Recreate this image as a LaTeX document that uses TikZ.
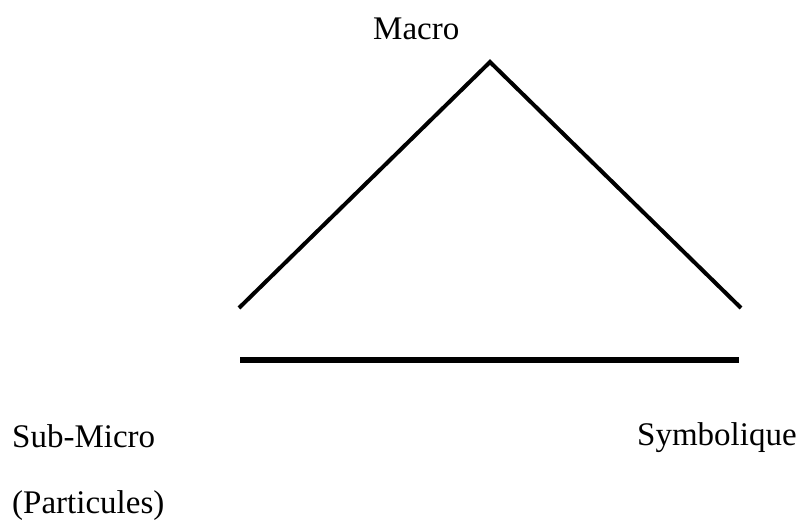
\documentclass[tikz,border=0pt]{standalone}
\usepackage{fontspec}
\setmainfont{Liberation Serif}
\usetikzlibrary{positioning}
\tikzset{
  lvl/.style={inner sep=0pt, anchor=base west, font=\fontsize{33}{36}\selectfont},
  edge/.style={line width=4pt, line cap=butt},
  bar/.style={line width=6pt},
}
\begin{document}
\begin{tikzpicture}[x=1pt,y=-1pt]
        \useasboundingbox (0,0) rectangle (803,521);
        \coordinate (top) at (490,62);
        \coordinate (left) at (239,308);
        \coordinate (right) at (741,308);
        \coordinate (barL) at (240,360);
        \coordinate (barR) at (739,360);
        \draw[edge](left)--(top)--(right);
        \draw[bar](barL)--(barR);
        \node[lvl](macro) at (373,40){Macro};
        \node[lvl](sub) at (12,447){Sub-Micro};
        \node[lvl](part) at (12,513){(Particules)};
        \node[lvl](sym) at (637,445){Symbolique};
      \end{tikzpicture}
\end{document}
